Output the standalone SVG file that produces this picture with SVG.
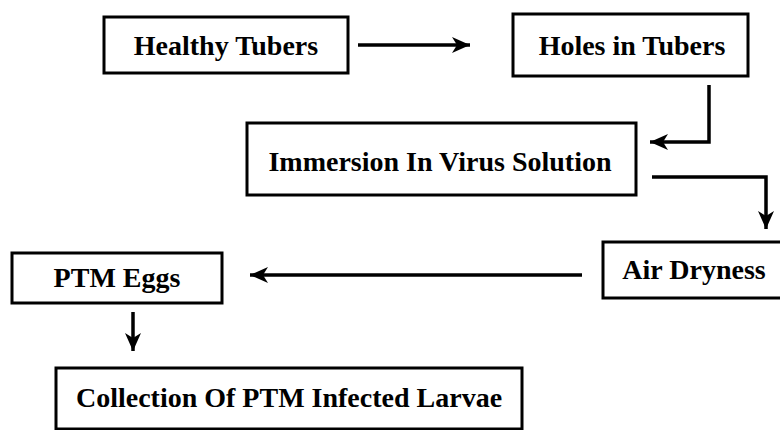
<svg xmlns="http://www.w3.org/2000/svg" width="780" height="430" viewBox="0 0 780 430">
  <style>
    .box { fill: #fff; stroke: #000; stroke-width: 3; }
    .lbl { font-family: "Liberation Serif", "Times New Roman", serif; font-weight: bold; font-size: 28px; fill: #000; text-anchor: middle; }
    .conn { fill: none; stroke: #000; stroke-width: 3.5; }
  </style>
  <defs>
    <marker id="ah" markerUnits="userSpaceOnUse" markerWidth="20" markerHeight="18" refX="18" refY="9" orient="auto">
      <path d="M0,1 L18,9 L0,17 L5,9 z" fill="#000"/>
    </marker>
  </defs>
  <rect width="780" height="430" fill="#fff"/>

  <g id="healthy-tubers">
    <rect class="box" x="104" y="17" width="244" height="56"/>
    <text class="lbl" x="226" y="55">Healthy Tubers</text>
  </g>
  <g id="holes-in-tubers">
    <rect class="box" x="513" y="14" width="235" height="62"/>
    <text class="lbl" x="632" y="55">Holes in Tubers</text>
  </g>
  <g id="immersion">
    <rect class="box" x="247" y="123" width="389" height="72"/>
    <text class="lbl" x="440" y="171">Immersion In Virus Solution</text>
  </g>
  <g id="air-dryness">
    <rect class="box" x="603" y="242" width="190" height="56"/>
    <text class="lbl" x="694" y="279">Air Dryness</text>
  </g>
  <g id="ptm-eggs">
    <rect class="box" x="12" y="253" width="210" height="50"/>
    <text class="lbl" x="117" y="287">PTM Eggs</text>
  </g>
  <g id="collection">
    <rect class="box" x="56" y="368" width="466" height="61"/>
    <text class="lbl" x="289" y="407">Collection Of PTM Infected Larvae</text>
  </g>

  <g id="connectors">
    <path class="conn" d="M358,45 H470" marker-end="url(#ah)"/>
    <path class="conn" d="M709,85 V142 H650" marker-end="url(#ah)"/>
    <path class="conn" d="M652,177 H766 V229" marker-end="url(#ah)"/>
    <path class="conn" d="M582,275 H250" marker-end="url(#ah)"/>
    <path class="conn" d="M133,312 V351" marker-end="url(#ah)"/>
  </g>
</svg>
